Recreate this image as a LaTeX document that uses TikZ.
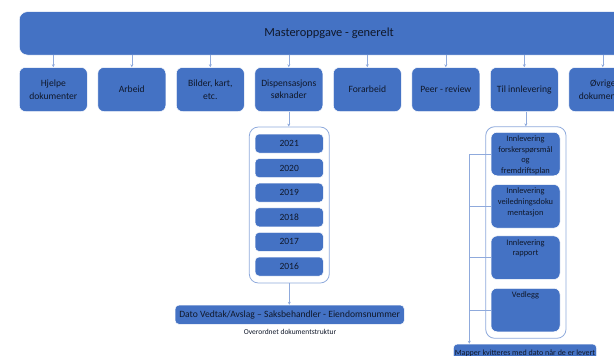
\documentclass[tikz,border=0pt]{standalone}
\usepackage{fontspec}
\setmainfont{Carlito}
\usetikzlibrary{arrows.meta,calc}
\definecolor{boxblue}{HTML}{4472C4}
\definecolor{lineblue}{HTML}{8FAADC}
\definecolor{txt}{HTML}{10182A}
\begin{document}
\begin{tikzpicture}[x=1pt,y=-1pt,
  bluebox/.style={fill=boxblue, draw=white, line width=0.5pt, rounded corners=6pt, text=txt, align=center, inner sep=0pt},
  rowbox/.style={bluebox, minimum width=68pt, minimum height=44pt, font=\fontsize{9.6}{12.5}\selectfont},
  yearbox/.style={bluebox, rounded corners=4pt, minimum width=68.3pt, minimum height=19pt, font=\fontsize{9.5}{11}\selectfont},
  innerbox/.style={bluebox, minimum width=69pt, minimum height=43.5pt},
  innertext/.style={anchor=north, text=txt, align=center, inner sep=0pt, font=\fontsize{8.4}{10.6}\selectfont},
  framebox/.style={draw=lineblue, line width=0.8pt, fill=white, rounded corners=9pt, inner sep=0pt},
  arr/.style={draw=lineblue, line width=0.6pt, -{Stealth[length=3pt,width=3pt]}},
  conn/.style={draw=lineblue, line width=0.6pt}]
\useasboundingbox (0,0) rectangle (614,356);
\clip (0,0) rectangle (614,356);

% top bar
\node[bluebox, rounded corners=8pt, minimum width=619.4pt, minimum height=43.3pt, font=\fontsize{12.4}{14}\selectfont] (master) at (329,33.35) {Masteroppgave - generelt};

% row
\node[rowbox] (r1) at (53.3,89.5) {Hjelpe\\dokumenter};
\node[rowbox] (r2) at (131.8,89.5) {Arbeid};
\node[rowbox] (r3) at (210.3,89.5) {Bilder, kart,\\etc.};
\node[rowbox] (r4) at (288.8,89.5) {Dispensasjons\\søknader};
\node[rowbox] (r5) at (367.3,89.5) {Forarbeid};
\node[rowbox] (r6) at (445.8,89.5) {Peer - review};
\node[rowbox] (r7) at (524.3,89.5) {Til innlevering};
\node[rowbox] (r8) at (602.8,89.5) {Øvrige\\dokumenter};
\foreach \r in {r1,r2,r3,r4,r5,r6,r7,r8}
  \draw[arr] (master.south -| \r.north) -- (\r.north);

% years
\node[framebox, minimum width=80pt, minimum height=156pt] (yc) at (289.3,205) {};
\node[yearbox] (y1) at (289.2,143.5) {2021};
\node[yearbox] (y2) at (289.2,168.1) {2020};
\node[yearbox] (y3) at (289.2,192.7) {2019};
\node[yearbox] (y4) at (289.2,217.3) {2018};
\node[yearbox] (y5) at (289.2,241.9) {2017};
\node[yearbox] (y6) at (289.2,266.5) {2016};
\draw[arr] (r4.south) -- (r4.south |- yc.north);

\node[bluebox, rounded corners=4pt, minimum width=229.3pt, minimum height=19.3pt, font=\fontsize{9.6}{11}\selectfont] (dato) at (289.7,314.7) {Dato Vedtak/Avslag – Saksbehandler - Eiendomsnummer};
\draw[arr] (yc.south) -- (yc.south |- dato.north);
\node[text=txt, inner sep=0pt, font=\fontsize{7.5}{9}\selectfont] (cap) at (290,332.3) {Overordnet dokumentstruktur};

% til innlevering
\node[framebox, minimum width=80.3pt, minimum height=211.6pt] (tc) at (525.85,232.5) {};
\node[innerbox] (i1) at (525.5,154) {};
\node[innerbox] (i2) at (525.5,206.3) {};
\node[innerbox] (i3) at (525.5,257.7) {};
\node[innerbox] (i4) at (525.5,310) {};
\node[innertext] (t1) at ($(i1.north)+(0,3.5)$) {Innlevering\\forskerspørsmål\\og\\fremdriftsplan};
\node[innertext] (t2) at ($(i2.north)+(0,3.5)$) {Innlevering\\veiledningsdoku\\mentasjon};
\node[innertext] (t3) at ($(i3.north)+(0,3.5)$) {Innlevering\\rapport};
\node[innertext] (t4) at ($(i4.north)+(0,3.5)$) {Vedlegg};
\draw[arr] (r7.south -| tc.north) -- (tc.north);

\node[bluebox, rounded corners=4pt, minimum width=143.4pt, minimum height=18pt, font=\fontsize{8}{9}\selectfont] (mb) at (525,353) {Mapper kvitteres med dato når de er levert};
\coordinate (bx) at (469.3,0);
\draw[arr] (i1.west) -| (mb.north -| bx);
\draw[conn] (i2.west) -- (i2.west -| bx);
\draw[conn] (i3.west) -- (i3.west -| bx);
\draw[conn] (i4.west) -- (i4.west -| bx);
\end{tikzpicture}
\end{document}
